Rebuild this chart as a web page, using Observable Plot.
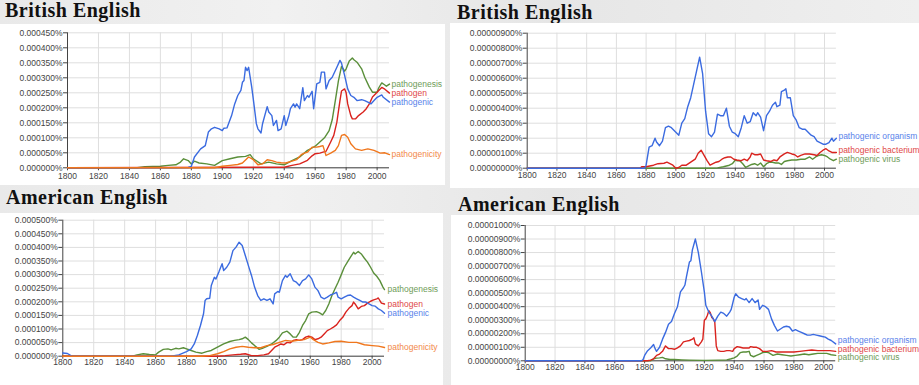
<!DOCTYPE html>
<html><head><meta charset="utf-8">
<script src="https://cdn.jsdelivr.net/npm/d3@7"></script>
<script src="https://cdn.jsdelivr.net/npm/@observablehq/plot@0.6"></script>
<style>
html,body{margin:0;padding:0}
body{width:919px;height:385px;position:relative;overflow:hidden;background:linear-gradient(90deg,#e9e9e9,#f1f1f1 30%,#e6e6e6 60%,#efefef);font-family:"Liberation Sans",Arial,sans-serif}
.panel{position:absolute;background:#fff}
.panel svg{display:block}
.title{position:absolute;font-family:"Liberation Serif","Times New Roman",serif;font-weight:bold;font-size:20px;line-height:20px;letter-spacing:0.5px;color:#111;white-space:nowrap}
</style></head><body>
<div class="title" style="left:5px;top:0px">British English</div>
<div class="title" style="left:457px;top:2px">British English</div>
<div class="title" style="left:6px;top:187px">American English</div>
<div class="title" style="left:458px;top:194px">American English</div>
<div id="p1" class="panel" style="left:0;top:24px"></div>
<div id="p2" class="panel" style="left:450px;top:23px"></div>
<div id="p3" class="panel" style="left:0;top:213px"></div>
<div id="p4" class="panel" style="left:451px;top:215px"></div>
<script>
// values in millionths of a percent (1 = 0.000001%)
const years = d3.range(1800, 2001, 20);

// British English: single words
const brPathogenesis = [[1800,0],[1845,0],[1850,4],[1860,5],[1865,8],[1870,10],[1873,19],[1875,30],[1878,24],[1880,13],[1882,22],[1885,16],[1890,13],[1895,8],[1900,24],[1905,30],[1910,36],[1915,38],[1918,44],[1920,30],[1925,13],[1930,19],[1935,13],[1940,10],[1945,24],[1950,36],[1955,58],[1958,66],[1960,72],[1963,86],[1966,100],[1969,124],[1971,160],[1973,224],[1975,290],[1977,338],[1979,322],[1980,330],[1982,356],[1984,366],[1985,360],[1987,352],[1990,330],[1992,302],[1995,269],[1997,252],[2000,252],[2001,266],[2003,283],[2005,276],[2006,272],[2008,279]];
const brPathogen = [[1800,0],[1940,2],[1945,8],[1950,13],[1955,25],[1958,40],[1960,47],[1963,49],[1965,52],[1967,55],[1968,65],[1970,86],[1972,108],[1974,152],[1976,224],[1977,256],[1979,263],[1980,250],[1981,213],[1983,174],[1984,163],[1986,163],[1988,174],[1991,186],[1993,197],[1995,213],[1997,236],[2000,252],[2002,263],[2003,268],[2005,262],[2008,249]];
const brPathogenic = [[1800,0],[1870,0],[1878,1],[1880,5],[1882,36],[1886,63],[1889,74],[1891,119],[1893,130],[1895,135],[1898,130],[1900,124],[1901,132],[1903,133],[1906,174],[1908,213],[1910,241],[1912,258],[1913,285],[1914,291],[1915,335],[1916,324],[1917,335],[1919,269],[1920,230],[1922,147],[1923,130],[1925,116],[1926,147],[1929,204],[1930,186],[1932,174],[1933,141],[1935,158],[1936,124],[1938,130],[1940,174],[1941,141],[1943,174],[1944,197],[1946,213],[1947,202],[1948,213],[1950,197],[1952,267],[1953,224],[1955,241],[1956,235],[1958,255],[1959,197],[1961,280],[1963,285],[1964,319],[1966,319],[1967,263],[1969,291],[1971,302],[1974,335],[1976,358],[1977,349],[1979,308],[1981,263],[1983,241],[1985,235],[1987,224],[1990,227],[1992,224],[1994,219],[1996,213],[1998,224],[2000,235],[2003,243],[2004,235],[2008,219]];
const brPathogenicity = [[1800,0],[1895,0],[1900,5],[1905,8],[1910,11],[1913,16],[1917,36],[1920,27],[1923,10],[1926,13],[1929,27],[1932,24],[1935,19],[1938,17],[1941,16],[1945,22],[1948,27],[1951,44],[1953,49],[1955,52],[1958,69],[1961,69],[1963,71],[1965,74],[1967,41],[1970,49],[1973,58],[1975,74],[1977,108],[1979,111],[1981,102],[1983,80],[1986,63],[1990,58],[1994,63],[1998,58],[2002,49],[2005,50],[2008,44]];

// British English: phrases
const brOrganism = [[1800,0],[1879,0],[1880,0.2],[1882,1.4],[1884,1.5],[1886,2.0],[1887,1.75],[1889,1.5],[1891,1.8],[1893,2.7],[1895,2.8],[1897,2.7],[1899,2.5],[1901,2.3],[1902,2.2],[1904,3.0],[1906,3.3],[1908,4.1],[1910,4.7],[1912,5.6],[1914,6.5],[1916,7.4],[1918,6.3],[1920,3.8],[1922,2.3],[1924,2.1],[1926,2.4],[1928,3.6],[1930,3.5],[1932,3.5],[1934,4.0],[1936,2.8],[1938,2.4],[1940,2.3],[1942,2.1],[1944,2.7],[1946,3.5],[1948,3.0],[1950,3.1],[1952,3.7],[1954,3.5],[1955,3.7],[1957,3.4],[1959,2.5],[1961,3.5],[1963,3.8],[1965,4.2],[1967,4.4],[1968,4.1],[1970,4.2],[1971,5.1],[1973,5.2],[1974,5.3],[1975,4.7],[1977,4.7],[1979,3.5],[1981,3.2],[1983,2.7],[1985,2.6],[1987,2.6],[1989,2.4],[1991,2.2],[1993,2.1],[1995,1.8],[1997,1.7],[1999,1.6],[2001,1.6],[2003,1.7],[2005,2.0],[2006,1.8],[2008,2.0]];
const brBacterium = [[1800,0],[1876,0],[1877,0.1],[1880,0.1],[1885,0.2],[1888,0.3],[1892,0.33],[1894,0.4],[1896,0.3],[1898,0.2],[1900,0],[1902,0.05],[1904,0.2],[1907,0.2],[1910,0.4],[1913,0.6],[1915,1.0],[1917,1.2],[1919,0.85],[1921,0.5],[1923,0.2],[1925,0.3],[1927,0.4],[1929,0.45],[1931,0.6],[1933,0.7],[1935,0.75],[1937,0.75],[1939,0.6],[1941,0.55],[1944,0.5],[1946,0.6],[1948,0.5],[1950,0.75],[1951,1.0],[1953,0.9],[1955,0.9],[1957,0.95],[1959,0.55],[1961,0.5],[1964,0.45],[1966,0.55],[1968,0.5],[1970,0.75],[1973,0.95],[1975,1.05],[1978,0.95],[1980,0.9],[1982,0.75],[1984,0.85],[1987,0.95],[1990,0.95],[1993,0.9],[1995,0.85],[1997,1.05],[1999,1.2],[2001,1.3],[2003,1.15],[2005,1.05],[2008,1.05]];
const brVirus = [[1800,0],[1925,0],[1928,0.02],[1932,0.1],[1936,0.2],[1938,0.3],[1940,0.55],[1941,0.5],[1943,0.5],[1945,0.3],[1947,0.05],[1949,0.15],[1951,0.25],[1953,0.3],[1955,0.2],[1957,0.35],[1959,0.1],[1961,0.3],[1963,0.4],[1965,0.4],[1967,0.35],[1969,0.35],[1971,0.25],[1973,0.45],[1975,0.5],[1978,0.55],[1981,0.55],[1984,0.6],[1987,0.6],[1990,0.75],[1992,0.6],[1994,0.75],[1996,0.85],[1998,0.9],[2000,0.85],[2002,0.75],[2004,0.6],[2006,0.5],[2008,0.6]];

// American English: single words
const amPathogenesis = [[1800,0],[1845,0],[1848,5],[1852,9],[1856,6],[1860,5],[1862,15],[1865,25],[1868,27],[1870,23],[1873,29],[1875,27],[1878,31],[1880,27],[1883,21],[1886,15],[1890,11],[1893,17],[1896,21],[1900,33],[1904,45],[1908,54],[1911,58],[1914,61],[1916,64],[1918,70],[1920,61],[1922,49],[1924,39],[1927,25],[1929,29],[1932,36],[1935,45],[1938,58],[1940,70],[1942,86],[1945,92],[1947,82],[1949,70],[1951,70],[1953,88],[1955,113],[1957,131],[1959,156],[1961,162],[1964,164],[1966,159],[1968,152],[1970,168],[1972,192],[1974,223],[1976,248],[1978,272],[1980,299],[1982,327],[1984,346],[1986,364],[1988,382],[1989,376],[1991,385],[1993,376],[1995,360],[1997,346],[1999,327],[2001,306],[2003,294],[2005,278],[2007,254],[2008,245]];
const amPathogen = [[1800,0],[1900,0],[1905,2],[1910,5],[1915,7],[1918,9],[1922,2],[1926,2],[1930,5],[1933,9],[1935,21],[1937,33],[1939,39],[1941,45],[1943,42],[1945,51],[1947,49],[1949,58],[1951,61],[1953,58],[1955,61],[1957,70],[1959,74],[1961,70],[1963,61],[1965,64],[1967,70],[1969,82],[1971,94],[1973,100],[1975,107],[1977,115],[1979,131],[1981,143],[1983,162],[1985,176],[1987,186],[1988,199],[1989,192],[1991,174],[1993,183],[1995,186],[1997,195],[1999,202],[2001,207],[2003,211],[2004,214],[2006,195],[2008,192]];
const amPathogenic = [[1800,12],[1803,10],[1805,3],[1806,0],[1870,0],[1875,5],[1880,17],[1883,27],[1885,45],[1887,76],[1889,113],[1891,156],[1892,205],[1893,211],[1895,213],[1896,260],[1898,290],[1899,284],[1901,311],[1903,340],[1904,315],[1906,327],[1908,346],[1910,388],[1912,401],[1914,419],[1916,407],[1918,370],[1920,333],[1922,297],[1924,254],[1926,223],[1928,205],[1930,211],[1932,205],[1934,211],[1936,192],[1937,229],[1939,238],[1940,235],[1942,278],[1944,297],[1945,290],[1947,303],[1949,278],[1951,272],[1953,260],[1955,278],[1957,284],[1959,299],[1961,284],[1963,254],[1965,241],[1967,217],[1969,211],[1971,217],[1973,225],[1975,229],[1977,235],[1978,217],[1980,211],[1982,217],[1984,223],[1986,225],[1988,217],[1990,211],[1992,205],[1994,199],[1996,199],[1998,192],[2000,186],[2002,184],[2004,174],[2006,168],[2008,158]];
const amPathogenicity = [[1800,0],[1890,0],[1895,2],[1900,9],[1904,17],[1908,27],[1912,33],[1916,36],[1920,33],[1924,31],[1928,31],[1932,39],[1936,43],[1940,51],[1944,58],[1948,55],[1952,58],[1956,61],[1960,70],[1962,61],[1965,51],[1968,45],[1972,49],[1976,54],[1980,55],[1985,51],[1990,51],[1995,42],[2000,39],[2004,37],[2008,32]];

// American English: phrases
const amOrganism = [[1800,0],[1878,0],[1879,0.1],[1880,0.4],[1882,0.75],[1884,0.95],[1886,1.2],[1887,0.9],[1888,0.7],[1890,1.0],[1892,1.6],[1894,2.1],[1896,2.7],[1898,2.9],[1900,3.5],[1902,4.0],[1904,5.1],[1906,5.4],[1907,5.6],[1908,6.2],[1910,7.3],[1911,7.4],[1912,8.2],[1914,9.0],[1916,8.0],[1918,6.6],[1920,5.1],[1921,4.1],[1923,3.6],[1925,3.3],[1927,2.9],[1929,3.3],[1931,3.6],[1933,3.5],[1935,3.3],[1937,3.6],[1938,3.8],[1940,4.7],[1941,4.95],[1943,4.7],[1945,4.6],[1947,4.5],[1948,4.6],[1950,4.3],[1952,4.6],[1954,4.3],[1956,4.5],[1957,3.8],[1959,4.1],[1961,4.0],[1963,3.8],[1965,3.1],[1967,2.6],[1969,2.2],[1971,2.35],[1973,2.5],[1975,2.55],[1977,2.5],[1979,2.2],[1981,2.3],[1983,2.2],[1985,2.1],[1987,2.0],[1989,1.9],[1991,1.9],[1993,1.95],[1995,1.9],[1997,1.85],[1999,1.8],[2001,1.75],[2003,1.6],[2005,1.5],[2008,1.25]];
const amBacterium = [[1800,0],[1882,0],[1884,0.05],[1886,0.15],[1888,0.4],[1890,0.5],[1892,0.7],[1893,0.9],[1894,1.1],[1896,0.9],[1898,0.9],[1900,0.85],[1902,0.95],[1904,1.1],[1906,1.4],[1908,1.45],[1910,1.5],[1912,1.6],[1913,1.7],[1914,1.25],[1916,1.1],[1918,1.4],[1919,1.6],[1920,3.0],[1921,3.1],[1922,3.35],[1923,3.7],[1924,3.55],[1925,3.2],[1926,3.1],[1927,2.85],[1928,1.1],[1929,0.75],[1931,0.7],[1933,0.7],[1935,0.75],[1937,0.75],[1939,0.7],[1940,0.9],[1942,1.05],[1944,1.0],[1946,0.95],[1948,0.95],[1950,0.95],[1951,1.05],[1953,1.0],[1955,1.0],[1957,0.9],[1959,0.7],[1962,0.7],[1965,0.75],[1968,0.65],[1972,0.65],[1976,0.65],[1980,0.65],[1984,0.7],[1988,0.75],[1992,0.8],[1996,0.75],[2000,0.75],[2004,0.75],[2008,0.7]];
const amVirus = [[1800,0],[1884,0],[1886,0.15],[1888,0.2],[1890,0.22],[1892,0.25],[1894,0.15],[1897,0.1],[1900,0.1],[1905,0.07],[1910,0.05],[1920,0.03],[1930,0.05],[1935,0.07],[1938,0.15],[1940,0.22],[1942,0.35],[1944,0.6],[1946,0.65],[1948,0.65],[1950,0.7],[1951,0.4],[1953,0.3],[1955,0.4],[1957,0.5],[1960,0.65],[1963,0.6],[1966,0.4],[1969,0.5],[1972,0.45],[1975,0.4],[1978,0.35],[1981,0.4],[1984,0.45],[1987,0.5],[1990,0.45],[1993,0.5],[1996,0.55],[1999,0.55],[2002,0.55],[2005,0.45],[2008,0.4]];

const C = {
  blue:  {line:"#3b6be0", text:"#5a82ea"},
  red:   {line:"#d9231e", text:"#e04848"},
  green: {line:"#5a8f3a", text:"#6f9c58"},
  orange:{line:"#f0761c", text:"#f2884a"}
};

function panel(el, o) {
  const yt = d3.range(0, o.yMax + 1e-9, o.yStep);
  const marks = [
    Plot.ruleY(yt, {stroke:"#dedede", strokeWidth:1}),
    Plot.ruleX(years.slice(1), {stroke:"#dedede", strokeWidth:1}),
    Plot.axisY({ticks: yt, tickFormat: d => (d * 1e-6).toFixed(o.digits) + "%", tickSize: 4, tickPadding: 1, label: null, fontSize: 8.5, stroke:"#444"}),
    Plot.axisX({ticks: years, tickFormat: d => String(d), tickSize: 3, tickPadding: o.xPad, label: null, fontSize: 8.5, stroke:"#444"}),
    Plot.ruleX([1800], {stroke:"#444"}),
    Plot.ruleY([0], {stroke:"#444"})
  ];
  o.series.forEach(s => {
    marks.push(Plot.line(s.values, {x: d => d[0], y: d => d[1], stroke: C[s.color].line, strokeWidth: 1.4}));
  });
  o.series.forEach(s => {
    const last = s.values[s.values.length - 1];
    marks.push(Plot.text([last], {x: d => d[0], y: d => d[1], text: () => s.name, fill: C[s.color].text, textAnchor: "start", dx: o.dx, dy: s.dy || 0, fontSize: 8.5}));
  });
  const chart = Plot.plot({
    width: o.width, height: o.height,
    marginLeft: o.mL, marginRight: o.mR, marginTop: o.mT, marginBottom: o.mB,
    x: {domain: [1800, 2008]},
    y: {domain: [0, o.yMax]},
    style: {fontFamily: '"Liberation Sans", Arial, sans-serif', color: "#444", background: "#fff", overflow: "visible"},
    marks
  });
  document.getElementById(el).appendChild(chart);
}

panel("p1", {width:445, height:161, mL:67, mR:56, mT:8.3, mB:17.7, yMax:450, yStep:50, digits:6, xPad:2.5, dx:2,
  series:[
    {name:"pathogenesis", color:"green", values:brPathogenesis},
    {name:"pathogen", color:"red", values:brPathogen},
    {name:"pathogenic", color:"blue", values:brPathogenic},
    {name:"pathogenicity", color:"orange", values:brPathogenicity}
  ]});
panel("p2", {width:469, height:165, mL:76.7, mR:83.1, mT:9.7, mB:20.3, yMax:9, yStep:1, digits:8, xPad:1, dx:2,
  series:[
    {name:"pathogenic virus", color:"green", values:brVirus, dy:0},
    {name:"pathogenic bacterium", color:"red", values:brBacterium, dy:-2},
    {name:"pathogenic organism", color:"blue", values:brOrganism, dy:-1.5}
  ]});
panel("p3", {width:443, height:172, mL:62.3, mR:59, mT:6.7, mB:29.3, yMax:500, yStep:50, digits:6, xPad:0, dx:3,
  series:[
    {name:"pathogenesis", color:"green", values:amPathogenesis},
    {name:"pathogen", color:"red", values:amPathogen},
    {name:"pathogenic", color:"blue", values:amPathogenic},
    {name:"pathogenicity", color:"orange", values:amPathogenicity}
  ]});
panel("p4", {width:468, height:170, mL:73.7, mR:83.8, mT:10, mB:24.7, yMax:10, yStep:1, digits:8, xPad:0.5, dx:2,
  series:[
    {name:"pathogenic virus", color:"green", values:amVirus, dy:2},
    {name:"pathogenic bacterium", color:"red", values:amBacterium, dy:-2.5},
    {name:"pathogenic organism", color:"blue", values:amOrganism, dy:-3.5}
  ]});
</script>
</body></html>
